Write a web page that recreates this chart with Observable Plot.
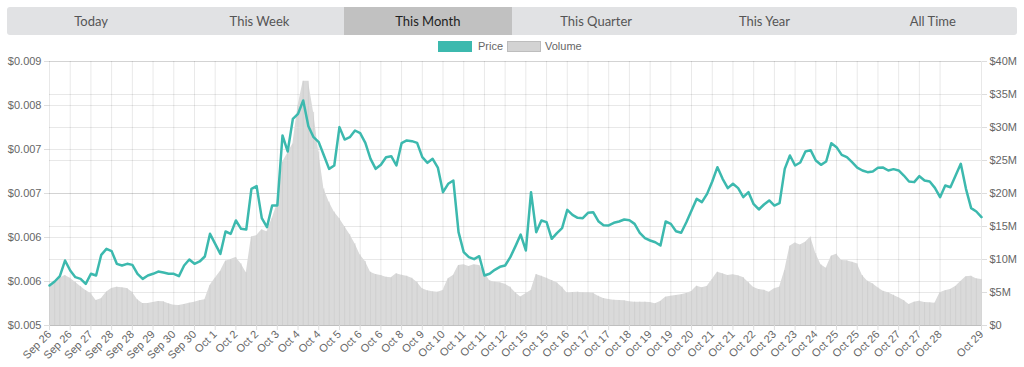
<!DOCTYPE html>
<html><head><meta charset="utf-8">
<script src="https://cdn.jsdelivr.net/npm/d3@7"></script>
<script src="https://cdn.jsdelivr.net/npm/@observablehq/plot@0.6"></script>
<style>
html,body{margin:0;padding:0;background:#fff;}
body{width:1024px;height:367px;overflow:hidden;font-family:"Liberation Sans",Arial,sans-serif;}
#tabs{margin:7px 7px 0 7px;height:28px;display:flex;background:#e1e2e4;border-radius:3px;overflow:hidden;}
.tab{flex:1;text-align:center;line-height:28px;font-family:Lato,sans-serif;font-size:13px;color:#555;}
.tab.active{background:#c1c1c1;color:#1e1e1e;}
#legend{position:relative;height:20px;}
.sw{position:absolute;top:6px;width:34px;height:11px;}
.lt{position:absolute;top:5px;font-size:11px;color:#666;line-height:13px;}
#chart svg{display:block;}
</style>
</head><body>
<div id="tabs"></div>
<div id="legend">
  <div class="sw" style="left:438px;background:#3cb9ae;"></div><div class="lt" style="left:478px;">Price</div>
  <div class="sw" style="left:507px;background:#d3d3d3;border:1px solid #bdbdbd;width:32px;height:9px;"></div><div class="lt" style="left:545px;">Volume</div>
</div>
<div id="chart"></div>
<script>
const tabs = ["Today","This Week","This Month","This Quarter","This Year","All Time"];
const activeTab = "This Month";

const price = [
0.005545,0.0056,0.005673,0.005886,0.00575,0.005659,0.005636,0.005568,0.005705,0.005682,
0.005964,0.006045,0.006014,0.005841,0.005818,0.005841,0.005827,0.005705,0.005636,0.005682,
0.005705,0.005736,0.005723,0.005705,0.005705,0.005673,0.005818,0.0059,0.005841,0.005873,
0.005941,0.00625,0.006114,0.005977,0.006282,0.00625,0.006432,0.006318,0.006309,0.006864,
0.0069,0.006464,0.006341,0.006636,0.006636,0.007591,0.007373,0.007818,0.007886,0.008068,
0.007718,0.007568,0.0075,0.007318,0.007136,0.007182,0.007705,0.007536,0.007568,0.007659,
0.007623,0.007491,0.007273,0.007136,0.007191,0.007295,0.007309,0.007182,0.007486,0.007523,
0.007514,0.007491,0.007295,0.007218,0.007273,0.007154,0.006818,0.006932,0.006977,0.006273,
0.006,0.005932,0.005905,0.005945,0.005682,0.005705,0.005759,0.0058,0.005818,0.005932,
0.006082,0.00624,0.006023,0.006818,0.006273,0.006432,0.006409,0.006182,0.006259,0.006327,
0.006577,0.006509,0.006468,0.006464,0.006536,0.006545,0.006423,0.006368,0.006364,0.0064,
0.006418,0.006445,0.006436,0.006386,0.006264,0.006191,0.006159,0.006136,0.006091,0.006418,
0.006386,0.006286,0.006264,0.006409,0.006568,0.006727,0.006682,0.006795,0.006964,0.007159,
0.007,0.006873,0.006932,0.006873,0.00675,0.006818,0.006655,0.006582,0.00665,0.006705,
0.006636,0.006668,0.007136,0.007318,0.007182,0.007223,0.007373,0.007391,0.00725,0.007191,
0.007236,0.007486,0.007432,0.007327,0.007295,0.007227,0.007154,0.007114,0.007091,0.0071,
0.00715,0.007154,0.007114,0.007132,0.007114,0.007045,0.006964,0.006955,0.007036,0.006977,
0.006964,0.006877,0.00675,0.006909,0.006886,0.007045,0.007205,0.006864,0.0066,0.006555,
0.006477
];

const volumeM = [
5.81,6.46,7.17,7.58,7.17,6.57,5.91,5.30,4.85,3.79,
4.04,5.05,5.61,5.81,5.71,5.61,5.05,3.89,3.33,3.33,
3.48,3.64,3.59,3.28,3.08,3.03,3.18,3.38,3.54,3.74,
3.89,6.06,7.17,8.18,9.75,10.0,10.3,9.34,7.98,13.4,
13.6,14.5,14.2,16.2,18.4,24.7,26.1,27.5,33.3,37.0,
37.0,32.3,26.3,20.7,18.7,17.2,16.2,15.0,13.8,12.4,
10.7,9.70,8.08,7.73,7.58,7.32,7.22,7.83,7.63,7.47,
7.17,6.57,5.56,5.25,5.10,5.05,5.30,7.07,7.58,9.09,
9.19,8.94,9.19,9.09,8.08,6.77,6.57,6.46,6.26,5.81,
4.95,4.30,4.80,5.30,7.73,7.47,7.17,6.82,6.46,5.81,
4.90,5.00,5.05,4.95,4.95,4.90,4.44,4.09,3.94,3.84,
3.79,3.74,3.59,3.54,3.54,3.54,3.48,3.28,3.64,4.29,
4.44,4.55,4.65,4.85,5.15,5.96,5.71,5.91,6.97,8.08,
7.83,7.58,7.68,7.52,7.27,6.50,5.75,5.45,5.35,5.05,
5.56,5.81,8.33,12.0,12.5,12.2,12.6,13.4,10.9,9.19,
8.69,10.5,10.8,9.85,9.80,9.60,9.34,7.58,6.72,6.31,
5.71,5.20,4.95,4.60,4.19,3.79,3.18,3.54,3.69,3.48,
3.43,3.38,4.95,5.25,5.45,5.91,6.67,7.37,7.47,7.07,
6.97
];

const xLabels = ["Sep 26","Sep 26","Sep 27","Sep 28","Sep 28","Sep 29","Sep 30","Sep 30",
"Oct 1","Oct 2","Oct 2","Oct 3","Oct 4","Oct 4","Oct 5","Oct 6","Oct 6","Oct 8","Oct 9","Oct 10",
"Oct 11","Oct 11","Oct 12","Oct 15","Oct 15","Oct 16","Oct 17","Oct 17","Oct 18","Oct 19","Oct 19","Oct 20",
"Oct 21","Oct 21","Oct 22","Oct 23","Oct 23","Oct 24","Oct 25","Oct 25","Oct 26","Oct 27","Oct 27","Oct 28","Oct 29"];

const priceTicks = [0.005,0.0056,0.0062,0.0068,0.0074,0.008,0.0086];
const volumeTicksM = [0,5,10,15,20,25,30,35,40];

// tabs
const tabsEl = document.getElementById("tabs");
tabs.forEach(t => {
  const d = document.createElement("div");
  d.className = "tab" + (t === activeTab ? " active" : "");
  d.textContent = t;
  tabsEl.appendChild(d);
});

const n = price.length;
const pMin = priceTicks[0], pMax = priceTicks[priceTicks.length - 1];
const vMax = volumeTicksM[volumeTicksM.length - 1];
const volToY = v => pMin + v / vMax * (pMax - pMin);

const xTickIdx = xLabels.map((_, i) => i < xLabels.length - 1 ? i * 4 : n - 1);
const labelOf = new Map(xTickIdx.map((t, i) => [t, xLabels[i]]));

const data = price.map((p, i) => ({i, p, v: volumeM[i]}));
const volYTicks = volumeTicksM.map(volToY);
const volLabel = new Map(volYTicks.map((y, i) => [y, volumeTicksM[i] === 0 ? "$0" : "$" + volumeTicksM[i] + "M"]));

const chart = Plot.plot({
  width: 1024,
  height: 312,
  marginTop: 6,
  marginBottom: 42,
  marginLeft: 49,
  marginRight: 43,
  style: {fontFamily: "Liberation Sans, Arial, sans-serif", fontSize: "11px", background: "#fff"},
  x: {domain: [0, n - 1], axis: null},
  y: {domain: [pMin, pMax], axis: null},
  marks: [
    Plot.gridY(priceTicks, {stroke: "#000", strokeOpacity: 0.09}),
    Plot.gridY(volYTicks, {stroke: "#000", strokeOpacity: 0.09}),
    Plot.gridX(xTickIdx, {stroke: "#000", strokeOpacity: 0.09}),
    Plot.areaY(data, {x: "i", y1: pMin, y2: d => volToY(d.v), fill: "#dadada"}),
    Plot.ruleX(data, {x: "i", y1: pMin, y2: d => volToY(d.v), stroke: "#c9c9c9", strokeWidth: 0.6}),
    Plot.ruleY([pMin], {stroke: "#bfbfbf"}),
    Plot.line(data, {x: "i", y: "p", stroke: "#3cb9ae", strokeWidth: 2.5, curve: "linear", strokeLinejoin: "round"}),
    Plot.axisY(priceTicks, {anchor: "left", label: null, tickSize: 5, tickPadding: 3, stroke: "#ddd", fill: "#666", tickFormat: d3.format("$.3f")}),
    Plot.axisY(volYTicks, {anchor: "right", label: null, tickSize: 5, tickPadding: 3, stroke: "#ddd", fill: "#666", tickFormat: d => volLabel.get(d)}),
    Plot.axisX(xTickIdx, {anchor: "bottom", label: null, tickSize: 5, tickPadding: 2, tickRotate: -45, stroke: "#ddd", fill: "#666", tickFormat: d => labelOf.get(d)})
  ]
});
document.getElementById("chart").appendChild(chart);
</script>
</body></html>
